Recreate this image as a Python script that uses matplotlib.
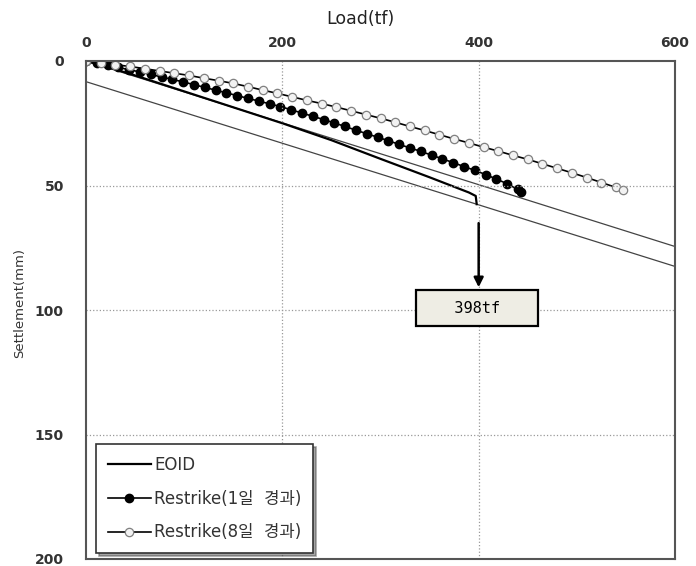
import matplotlib
matplotlib.use('Agg')
import matplotlib.pyplot as plt
import numpy as np

plt.rcParams['font.family'] = ['DejaVu Sans', 'Noto Sans CJK KR']

# EOID load-settlement curve
eoid_load = [0, 20, 50, 100, 150, 200, 250, 300, 350, 390, 397, 398]
eoid_settle = [0, 2.2, 5.8, 12.2, 18.6, 25.0, 31.8, 39.3, 46.7, 52.8, 54.2, 57.5]

# Restrike after 1 day
r1_load = [0, 11, 22, 33, 44, 55, 66, 77, 88, 99, 110, 121, 132, 143, 154, 165, 176,
           187, 198, 209, 220, 231, 242, 253, 264, 275, 286, 297, 308, 319, 330, 341,
           352, 363, 374, 385, 396, 407, 418, 429, 440, 443]
r1_settle = [0, 0.9, 1.8, 2.6, 3.5, 4.4, 5.4, 6.4, 7.4, 8.4, 9.5, 10.6, 11.7, 12.8,
             13.9, 15.0, 16.1, 17.2, 18.3, 19.6, 20.9, 22.2, 23.5, 24.9, 26.3, 27.8,
             29.2, 30.6, 32.0, 33.5, 34.9, 36.3, 37.8, 39.3, 40.8, 42.4, 43.9, 45.6,
             47.4, 49.3, 51.6, 52.5]

# Restrike after 8 days
r8_load = [0, 15, 30, 45, 60, 75, 90, 105, 120, 135, 150, 165, 180, 195, 210, 225, 240,
           255, 270, 285, 300, 315, 330, 345, 360, 375, 390, 405, 420, 435, 450, 465,
           480, 495, 510, 525, 540, 547]
r8_settle = [0, 0.7, 1.5, 2.2, 3.1, 4.0, 4.9, 5.8, 6.9, 7.9, 9.0, 10.3, 11.7, 13.0, 14.4,
             15.8, 17.1, 18.5, 20.0, 21.5, 23.0, 24.6, 26.3, 27.9, 29.6, 31.3, 32.9, 34.6,
             36.2, 37.9, 39.5, 41.3, 43.1, 44.9, 46.8, 48.8, 50.8, 52.0]

# Davisson elastic line and offset line
elastic_load = [0, 600]
elastic_settle = [0, 74.5]
offset_load = [0, 600]
offset_settle = [8.3, 82.5]

fail_load = 398

fig = plt.figure(figsize=(6.96, 5.66), dpi=100)
ax = fig.add_axes([86/696, 7/566, (675-86)/696, (559-61)/566])

ax.plot(elastic_load, elastic_settle, color='#444444', lw=0.9)
ax.plot(offset_load, offset_settle, color='#444444', lw=0.9)
ax.plot(eoid_load, eoid_settle, color='black', lw=1.6, label='EOID')
ax.plot(r1_load, r1_settle, color='black', lw=1.2, marker='o', ms=6,
        mfc='black', mec='black', label='Restrike(1일  경과)')
ax.plot(r8_load, r8_settle, color='black', lw=1.2, marker='o', ms=6,
        mfc='#f2f2f2', mec='#808080', mew=0.9, label='Restrike(8일  경과)')

ax.set_xlim(0, 600)
ax.set_ylim(200, 0)
ax.set_xticks([0, 200, 400, 600])
ax.set_yticks([0, 50, 100, 150, 200])
ax.xaxis.tick_top()
ax.tick_params(length=0, labelsize=10, colors='#333333')
ax.tick_params(axis='x', pad=8)
ax.tick_params(axis='y', pad=16)
for lab in ax.get_xticklabels() + ax.get_yticklabels():
    lab.set_fontweight('bold')

for x in [200, 400]:
    ax.axvline(x, color='#999999', lw=0.9, ls=':')
for y in [50, 100, 150]:
    ax.axhline(y, color='#999999', lw=0.9, ls=':')

for s in ax.spines.values():
    s.set_color('#555555')
    s.set_linewidth(1.5)

fig.text(0.518, 0.966, 'Load(tf)', ha='center', va='center', fontsize=12.5, color='#222222')
fig.text(0.028, 0.465, 'Settlement(mm)', ha='center', va='center', rotation=90,
         fontsize=9.5, color='#333333', family='Liberation Sans Narrow')

ax.annotate('', xy=(400, 92), xytext=(400, 64),
            arrowprops=dict(arrowstyle='-|>', color='black', lw=1.8, mutation_scale=14))
ax.text(fail_load, 99.3, '   %dtf   ' % fail_load, ha='center', va='center', fontsize=11,
        family='DejaVu Sans Mono',
        bbox=dict(boxstyle='square,pad=0.7', fc='#eeede4', ec='black', lw=1.6))

leg = ax.legend(loc='lower left', bbox_to_anchor=(0.017, 0.012), borderaxespad=0,
                fancybox=False, shadow=True, edgecolor='#333333', fontsize=12,
                handlelength=2.6, labelspacing=0.95, borderpad=0.7, handletextpad=0.2)
leg.get_frame().set_linewidth(1.2)
for t in leg.get_texts():
    t.set_color('#333333')

fig.savefig('out.png', dpi=100)
